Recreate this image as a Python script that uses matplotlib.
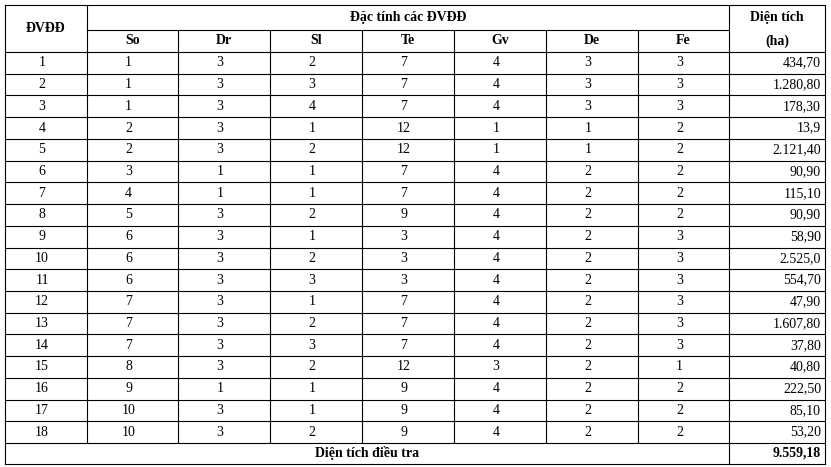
import matplotlib.pyplot as plt

plt.rcParams['font.family'] = ['Liberation Serif', 'DejaVu Serif']

units = list(range(1, 19))
so = [1, 1, 1, 2, 2, 3, 4, 5, 6, 6, 6, 7, 7, 7, 8, 9, 10, 10]
dr = [3, 3, 3, 3, 3, 1, 1, 3, 3, 3, 3, 3, 3, 3, 3, 1, 3, 3]
sl = [2, 3, 4, 1, 2, 1, 1, 2, 1, 2, 3, 1, 2, 3, 2, 1, 1, 2]
te = [7, 7, 7, 12, 12, 7, 7, 9, 3, 3, 3, 7, 7, 7, 12, 9, 9, 9]
gv = [4, 4, 4, 1, 1, 4, 4, 4, 4, 4, 4, 4, 4, 4, 3, 4, 4, 4]
de = [3, 3, 3, 1, 1, 2, 2, 2, 2, 2, 2, 2, 2, 2, 2, 2, 2, 2]
fe = [3, 3, 3, 2, 2, 2, 2, 2, 3, 3, 3, 3, 3, 3, 1, 2, 2, 2]
area = ['434,70', '1.280,80', '178,30', '13,9', '2.121,40', '90,90', '115,10',
        '90,90', '58,90', '2.525,0', '554,70', '47,90', '1.607,80', '37,80',
        '40,80', '222,50', '85,10', '53,20']
attr_names = ['So', 'Dr', 'Sl', 'Te', 'Gv', 'De', 'Fe']
total = '9.559,18'

W, H = 831, 467
fig = plt.figure(figsize=(W / 100, H / 100), dpi=100)
ax = fig.add_axes([0, 0, 1, 1])
ax.set_xlim(0, W)
ax.set_ylim(H, 0)
ax.axis('off')

xs = [5, 87, 178, 270, 362, 454, 546, 638, 729, 825]
y_top, y_h2, y_data = 5, 30, 52
rh = (443 - 52) / 18
y_bot_data = y_data + 18 * rh
y_end = 464
lw = 0.8
fs = 10

def hl(y, x0, x1):
    ax.plot([x0, x1], [y, y], color='black', lw=lw)

def vl(x, y0, y1):
    ax.plot([x, x], [y0, y1], color='black', lw=lw)

# outer frame and grid
hl(y_top, xs[0], xs[-1])
hl(y_h2, xs[1], xs[-2])
for i in range(19):
    hl(y_data + i * rh, xs[0], xs[-1])
hl(y_end, xs[0], xs[-1])
vl(xs[0], y_top, y_end)
vl(xs[-1], y_top, y_end)
vl(xs[1], y_top, y_bot_data)
vl(xs[-2], y_top, y_end)
for x in xs[2:-2]:
    vl(x, y_h2, y_bot_data)

# headers
ax.text((xs[0] + xs[1]) / 2, 28, 'ĐVĐĐ', ha='center', va='center', fontsize=fs, weight='bold')
ax.text((xs[1] + xs[-2]) / 2, 18, 'Đặc tính các ĐVĐĐ', ha='center', va='center', fontsize=fs, weight='bold')
ax.text((xs[-2] + xs[-1]) / 2, 18, 'Diện tích', ha='center', va='center', fontsize=fs, weight='bold')
ax.text((xs[-2] + xs[-1]) / 2, 41, '(ha)', ha='center', va='center', fontsize=fs, weight='bold')
for j, name in enumerate(attr_names):
    ax.text((xs[j + 1] + xs[j + 2]) / 2, 41, name, ha='center', va='center', fontsize=fs, weight='bold')

# data rows
cols = [units, so, dr, sl, te, gv, de, fe]
for i in range(18):
    yc = y_data + (i + 0.5) * rh
    for j, col in enumerate(cols):
        ax.text((xs[j] + xs[j + 1]) / 2 - 4, yc, str(col[i]), ha='center', va='center', fontsize=fs)
    ax.text(xs[-1] - 4, yc, area[i], ha='right', va='center', fontsize=fs)

# total row
yc = (y_bot_data + y_end) / 2
ax.text((xs[0] + xs[-2]) / 2, yc, 'Diện tích điều tra', ha='center', va='center', fontsize=fs, weight='bold')
ax.text(xs[-1] - 4, yc, total, ha='right', va='center', fontsize=fs, weight='bold')

fig.savefig('out.png', dpi=100, facecolor='white')
